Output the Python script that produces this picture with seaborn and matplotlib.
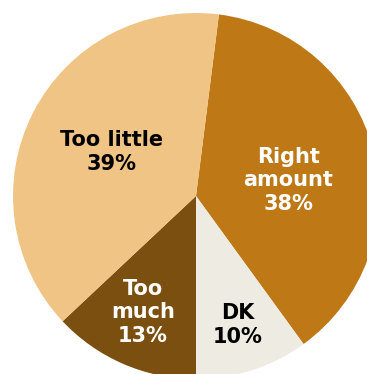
import matplotlib
matplotlib.use("Agg")
import matplotlib.pyplot as plt
import seaborn as sns

# Survey shares, clockwise from the top
categories = ["Right amount", "DK", "Too much", "Too little"]
shares = [38, 10, 13, 39]
display_labels = ["Right\namount", "DK", "Too\nmuch", "Too little"]

colors = sns.color_palette(["#BE7916", "#EEEBE3", "#7B4F10", "#F0C485"])
text_colors = ["white", "black", "white", "black"]
# label anchor points (data units, pie radius = 1)
label_pos = [(0.505, 0.085), (0.23, -0.705), (-0.29, -0.635), (-0.46, 0.24)]

sns.set_theme(style="white")
plt.rcParams["font.family"] = ["DejaVu Sans"]

fig = plt.figure(figsize=(3.67, 3.74), dpi=100)
ax = fig.add_axes([0, 0, 1, 1])

wedges, _ = ax.pie(shares, colors=colors, startangle=82.8, counterclock=False,
                   wedgeprops=dict(linewidth=0))

for lab, val, (x, y), tc in zip(display_labels, shares, label_pos, text_colors):
    ax.text(x, y, f"{lab}\n{val}%", ha="center", va="center", color=tc,
            fontsize=15, fontweight="bold", linespacing=1.23)

r_px = 183.0
ax.set_xlim(-196 / r_px, (367 - 196) / r_px)
ax.set_ylim(-(374 - 196) / r_px, 196 / r_px)
ax.set_aspect("auto")
ax.axis("off")

fig.savefig("out.png", dpi=100)
